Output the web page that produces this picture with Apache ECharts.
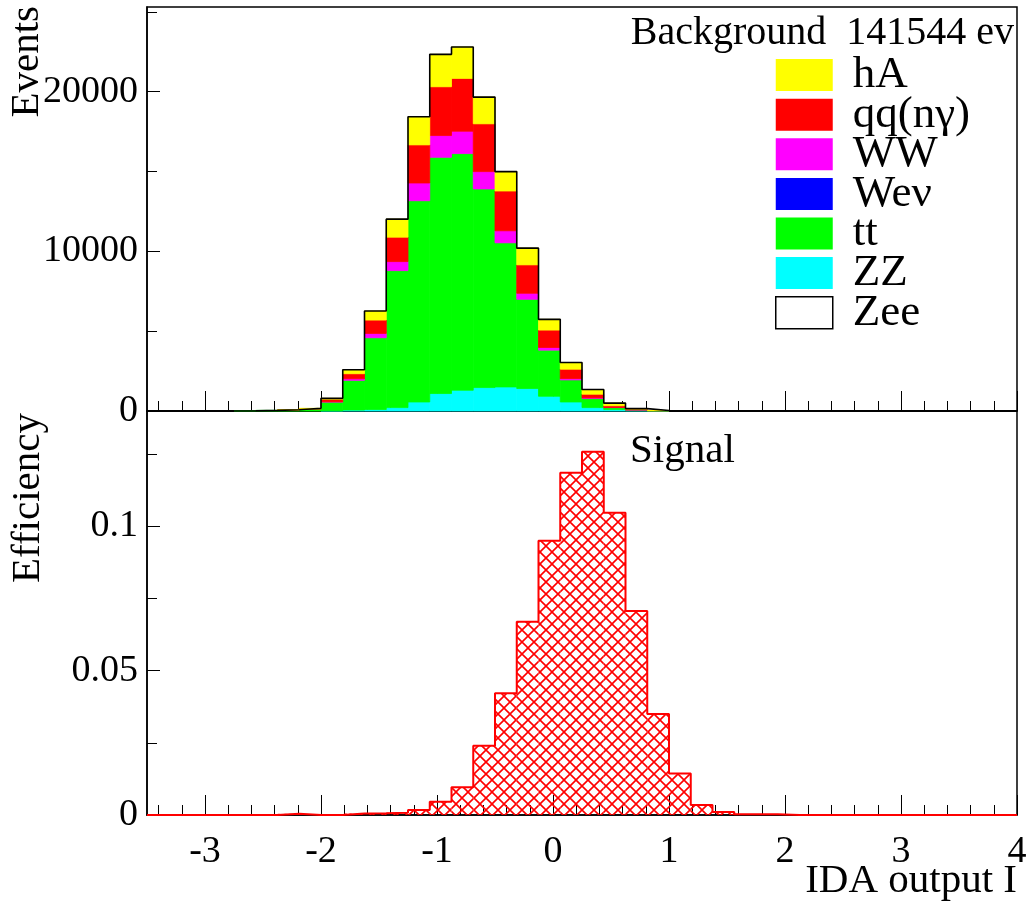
<!DOCTYPE html>
<html>
<head>
<meta charset="utf-8">
<script src="https://cdn.jsdelivr.net/npm/echarts@6.0.0/dist/echarts.min.js"></script>
<style>
html,body{margin:0;padding:0;background:#fff;}
#chart{width:1031px;height:902px;}
</style>
</head>
<body>
<div id="chart"></div>
<script>
// histogram binning of "IDA output I": 40 bins, -3.5 .. 4.0
var binLow = -3.5;
var binWidth = 0.1875;
var nBins = 40;

// background events per bin, one array per sample (stack bottom -> top)
var zee = [0,0,0,0,0,0,0,0,0,0, 0,0,0,0,0,0,0,0,0,0, 0,0,0,0,0,0,0,0,0,0, 0,0,0,0,0,0,0,0,0,0];
var zz  = [0,0,0,0,0,0,0,0,10,60, 90,213,565,1093,1300,1468,1507,1407,923,565, 213,88,25,5,0,0,0,0,0,0, 0,0,0,0,0,0,0,0,0,0];
var tt  = [0,0,0,0,10,40,60,120,550,1860, 4496,8579,12604,14795,14820,12436,9025,5589,2889,1382, 566,125,40,10,0,0,0,0,0,0, 0,0,0,0,0,0,0,0,0,0];
var wev = [0,0,0,0,0,0,0,0,0,0, 0,0,0,0,0,0,0,0,0,0, 0,0,0,0,0,0,0,0,0,0, 0,0,0,0,0,0,0,0,0,0];
var ww  = [0,0,0,0,0,0,0,0,20,100, 272,565,1110,1361,1402,1088,754,377,167,84, 42,10,5,0,0,0,0,0,0,0, 0,0,0,0,0,0,0,0,0,0];
var qq  = [0,0,0,0,0,0,10,30,150,314, 837,1528,2386,3056,3307,2993,2491,1779,1089,586, 230,105,40,10,0,0,0,0,0,0, 0,0,0,0,0,0,0,0,0,0];
var hA  = [0,0,0,0,0,0,5,20,63,251, 565,1130,1758,2030,1968,1674,1214,1047,670,419, 293,167,40,10,0,0,0,0,0,0, 0,0,0,0,0,0,0,0,0,0];

// signal efficiency per bin
var signal = [0,0,0,0,0,0,0.0004,0,0,0.0005, 0.0006,0.0008,0.0017,0.0046,0.0096,0.0240,0.0422,0.0670,0.0950,0.1186,
              0.1259,0.1047,0.0707,0.0350,0.0144,0.0035,0.0010,0.0003,0.0003,0, 0,0,0,0,0,0,0,0,0,0];

// tick labels
var xMajor = [-3,-2,-1,0,1,2,3,4];
var xMinor = [-3.4,-3.2,-2.8,-2.6,-2.4,-2.2,-1.8,-1.6,-1.4,-1.2,-0.8,-0.6,-0.4,-0.2,0.2,0.4,0.6,0.8,
              1.2,1.4,1.6,1.8,2.2,2.4,2.6,2.8,3.2,3.4,3.6,3.8];
var evMajor = [0,10000,20000];
var evMinor = [5000,15000,25000];
var effMajor = [0,0.05,0.1];
var effMinor = [0.025,0.075,0.125];

var serif = '"Liberation Serif", "DejaVu Serif", serif';

function edge(i) { return binLow + binWidth * i; }

var layers = [
	{name: 'Zee', values: zee, color: '#ffffff'},
	{name: 'ZZ', values: zz, color: '#00ffff'},
	{name: 'tt', values: tt, color: '#00ff00'},
	{name: 'Weν', values: wev, color: '#0000ff'},
	{name: 'WW', values: ww, color: '#ff00ff'},
	{name: 'qq(nγ)', values: qq, color: '#ff0000'},
	{name: 'hA', values: hA, color: '#ffff00'}
];

function stepPoints(values) {
	var pts = [];
	for (var i = 0; i < values.length; i++) pts.push([edge(i), values[i]]);
	pts.push([edge(values.length), values[values.length - 1]]);
	return pts;
}

function rectItem(fill, stroke) {
	return function(params, api) {
		var lo = api.value(2), hi = api.value(3);
		if (hi <= lo) return null;
		var p0 = api.coord([api.value(0), hi]);
		var p1 = api.coord([api.value(1), lo]);
		return {
			type: 'rect',
			shape: {x: p0[0], y: p0[1], width: p1[0] - p0[0], height: p1[1] - p0[1]},
			style: {fill: fill, stroke: stroke || null, lineWidth: stroke ? 0.8 : 0}
		};
	};
}

// stacked background
var base = [];
for (var i = 0; i < nBins; i++) base.push(0);
var series = [];
layers.forEach(function(l) {
	var data = [];
	for (var i = 0; i < nBins; i++) {
		data.push([edge(i), edge(i + 1), base[i], base[i] + l.values[i]]);
		base[i] += l.values[i];
	}
	series.push({
		name: l.name, type: 'custom', xAxisIndex: 0, yAxisIndex: 0,
		itemStyle: {color: l.color},
		encode: {x: [0, 1], y: [2, 3]},
		renderItem: rectItem(l.color, l.color),
		data: data, z: 2
	});
});
series.push({
	type: 'line', xAxisIndex: 0, yAxisIndex: 0, step: 'end', symbol: 'none',
	lineStyle: {color: '#000', width: 1.6}, data: stepPoints(base), z: 5
});

// signal, red cross hatch
var hatch = document.createElement('canvas');
hatch.width = 12; hatch.height = 12;
var hctx = hatch.getContext('2d');
hctx.strokeStyle = '#ff0000';
hctx.lineWidth = 1.6;
hctx.beginPath();
hctx.moveTo(-1, -1); hctx.lineTo(13, 13);
hctx.moveTo(13, -1); hctx.lineTo(-1, 13);
hctx.stroke();

var sigData = [];
for (var i = 0; i < nBins; i++) sigData.push([edge(i), edge(i + 1), 0, signal[i]]);
series.push({
	name: 'Signal', type: 'custom', xAxisIndex: 2, yAxisIndex: 2,
	encode: {x: [0, 1], y: [2, 3]},
	renderItem: rectItem({image: hatch, repeat: 'repeat'}),
	data: sigData, z: 2
});
series.push({
	type: 'line', xAxisIndex: 2, yAxisIndex: 2, step: 'end', symbol: 'none',
	lineStyle: {color: '#ff0000', width: 2}, data: stepPoints(signal), z: 5
});

function xAxes(grid, labels) {
	return [{
		type: 'value', gridIndex: grid, position: 'bottom', min: -3.5, max: 4,
		axisLine: {show: true, onZero: false, lineStyle: {color: '#000', width: 1.5}},
		axisTick: {show: true, inside: true, length: 20, customValues: xMajor, lineStyle: {color: '#000', width: 1}},
		axisLabel: {show: labels, customValues: xMajor, margin: 18, fontSize: 38, fontFamily: serif, color: '#000',
			formatter: function(v) { return String(v); }},
		splitLine: {show: false}
	}, {
		type: 'value', gridIndex: grid, position: 'bottom', min: -3.5, max: 4,
		axisLine: {show: false, onZero: false},
		axisTick: {show: true, inside: true, length: 10, customValues: xMinor, lineStyle: {color: '#000', width: 1}},
		axisLabel: {show: false},
		splitLine: {show: false}
	}];
}

function yAxes(grid, max, major, minor) {
	return [{
		type: 'value', gridIndex: grid, position: 'left', min: 0, max: max,
		axisLine: {show: true, onZero: false, lineStyle: {color: '#000', width: 1.5}},
		axisTick: {show: true, inside: true, length: 13, customValues: major, lineStyle: {color: '#000', width: 1}},
		axisLabel: {customValues: major, margin: 9, fontSize: 38, fontFamily: serif, color: '#000',
			formatter: function(v) { return String(v); }},
		splitLine: {show: false}
	}, {
		type: 'value', gridIndex: grid, position: 'left', min: 0, max: max,
		axisLine: {show: false, onZero: false},
		axisTick: {show: true, inside: true, length: 10, customValues: minor, lineStyle: {color: '#000', width: 1}},
		axisLabel: {show: false},
		splitLine: {show: false}
	}];
}

var legendData = layers.slice().reverse().map(function(l) {
	var st = {color: l.color};
	if (l.name == 'Zee') { st.borderColor = '#000'; st.borderWidth = 1.5; }
	return {name: l.name, itemStyle: st};
});

var myChart = echarts.init(document.getElementById('chart'));
option = {
	animation: false,
	backgroundColor: '#fff',
	grid: [
		{left: 147, width: 870, top: 7, height: 404, show: true, borderColor: '#000', borderWidth: 1.5},
		{left: 147, width: 870, top: 411, height: 404, show: true, borderColor: '#000', borderWidth: 1.5}
	],
	xAxis: xAxes(0, false).concat(xAxes(1, true)),
	yAxis: yAxes(0, 25300, evMajor, evMinor).concat(yAxes(1, 0.14, effMajor, effMinor)),
	legend: {
		orient: 'vertical', left: 775, top: 52.6, padding: 0,
		itemWidth: 57, itemHeight: 32, itemGap: -5.4,
		icon: 'rect', selectedMode: false,
		textStyle: {fontFamily: serif, fontSize: 45, color: '#000', lineHeight: 22, padding: [0, 0, 10, 15]},
		data: legendData
	},
	graphic: [
		{type: 'text', x: 1014, y: 33.5, style: {text: 'Background  141544 ev', align: 'right', verticalAlign: 'middle',
			fontFamily: serif, fontSize: 40, fill: '#000'}},
		{type: 'text', x: 630, y: 451.5, style: {text: 'Signal', align: 'left', verticalAlign: 'middle',
			fontFamily: serif, fontSize: 41, fill: '#000'}},
		{type: 'text', x: 27.5, y: 6, rotation: Math.PI / 2, style: {text: 'Events', align: 'right', verticalAlign: 'middle',
			fontFamily: serif, fontSize: 41, fill: '#000'}},
		{type: 'text', x: 28.5, y: 413, rotation: Math.PI / 2, style: {text: 'Efficiency', align: 'right', verticalAlign: 'middle',
			fontFamily: serif, fontSize: 41, fill: '#000'}},
		{type: 'text', x: 1017, y: 881, style: {text: 'IDA output I', align: 'right', verticalAlign: 'middle',
			fontFamily: serif, fontSize: 41, fill: '#000'}}
	],
	series: series
};
myChart.setOption(option);
</script>
</body>
</html>
